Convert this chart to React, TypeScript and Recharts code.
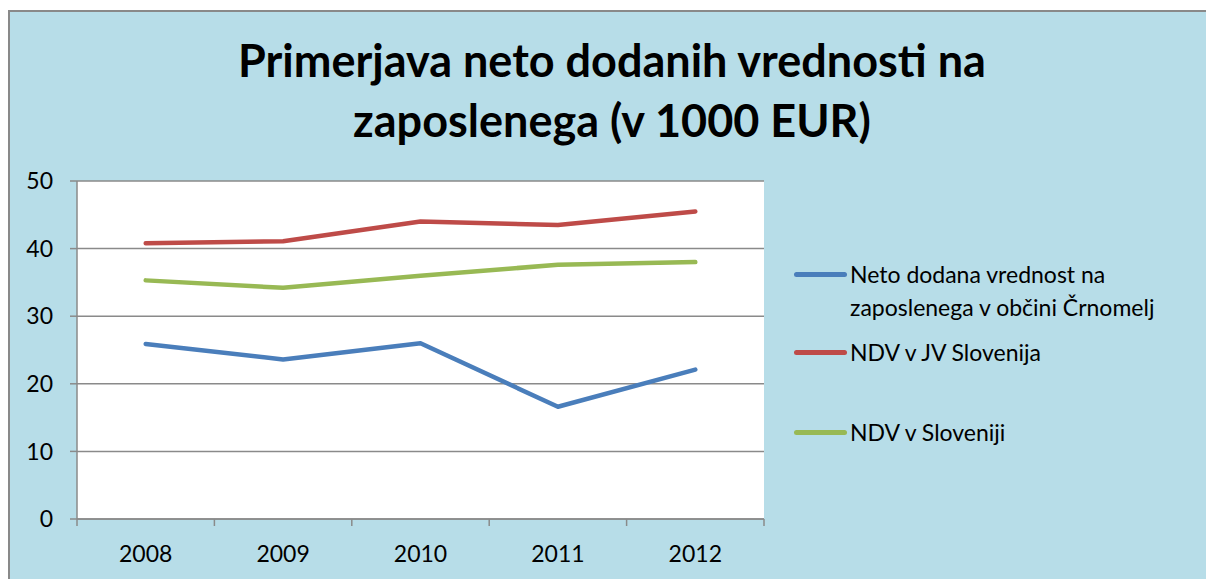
import React from 'react';
import { LineChart, Line, XAxis, YAxis, CartesianGrid, Legend } from 'recharts';

const years = ['2008', '2009', '2010', '2011', '2012'];
const crnomelj = [25.9, 23.6, 26.0, 16.6, 22.1];
const jvSlovenija = [40.8, 41.1, 44.0, 43.5, 45.5];
const slovenija = [35.3, 34.2, 36.0, 37.6, 38.0];
const yTicks = [0, 10, 20, 30, 40, 50];

const seriesNames = [
  'Neto dodana vrednost na zaposlenega v občini Črnomelj',
  'NDV v JV Slovenija',
  'NDV v Sloveniji',
];
const colors = ['#4A7EBB', '#BE4B48', '#98B954'];

const data = years.map((y, i) => ({
  x: i + 0.5,
  year: y,
  a: crnomelj[i],
  b: jvSlovenija[i],
  c: slovenija[i],
}));

const xTicks: number[] = [];
for (let i = 0; i <= years.length * 2; i++) xTicks.push(i / 2);

const FONT = 'Lato, "Noto Sans", sans-serif';
const AXIS = '#8a8a8a';

const XTick = (props: any) => {
  const { x, y, payload } = props;
  const v = payload.value;
  if (Number.isInteger(v)) {
    return <line x1={x} x2={x} y1={y} y2={y + 7} stroke={AXIS} strokeWidth={1.5} />;
  }
  return (
    <text x={x} y={y + 43} textAnchor="middle" fontSize={23} fontFamily={FONT} fill="#000">
      {years[Math.round(v - 0.5)]}
    </text>
  );
};

const LegendContent = () => {
  const items = [
    { name: seriesNames[0], color: colors[0], top: 0, lines: ['Neto dodana vrednost na', 'zaposlenega v občini Črnomelj'] },
    { name: seriesNames[1], color: colors[1], top: 78, lines: ['NDV v JV Slovenija'] },
    { name: seriesNames[2], color: colors[2], top: 158, lines: ['NDV v Sloveniji'] },
  ];
  return (
    <div style={{ position: 'relative', width: 400, height: 220, fontFamily: FONT, fontSize: 23, color: '#000' }}>
      {items.map((it) => (
        <div key={it.name} style={{ position: 'absolute', left: 0, top: it.top, display: 'flex' }}>
          <div style={{ width: 53, height: 5, borderRadius: 3, background: it.color, marginTop: 14, marginRight: 3 }} />
          <div style={{ lineHeight: '33px' }}>
            {it.lines.map((l) => (
              <div key={l} style={{ whiteSpace: 'nowrap' }}>{l}</div>
            ))}
          </div>
        </div>
      ))}
    </div>
  );
};

export default function App() {
  return (
    <div
      style={{
        position: 'fixed',
        left: 8,
        top: 10,
        width: 1198,
        height: 569,
        boxSizing: 'border-box',
        borderTop: '2px solid #898989',
        borderLeft: '2px solid #898989',
        background: '#B7DDE8',
        overflow: 'hidden',
      }}
    >
      <div
        style={{
          position: 'absolute',
          left: 0,
          top: 18,
          width: 1204,
          textAlign: 'center',
          fontFamily: FONT,
          fontWeight: 700,
          fontSize: 45,
          lineHeight: '60px',
          color: '#000',
        }}
      >
        <div>Primerjava neto dodanih vrednosti na</div>
        <div>zaposlenega (v 1000 EUR)</div>
      </div>
      <LineChart
        width={1196}
        height={567}
        data={data}
        margin={{ top: 169, right: 42, bottom: 0, left: 0 }}
      >
        <CartesianGrid vertical={false} horizontal stroke={AXIS} strokeWidth={1.5} fill="#ffffff" />
        <XAxis
          type="number"
          dataKey="x"
          domain={[0, 5]}
          ticks={xTicks}
          interval={0}
          height={60}
          tickSize={0}
          tickMargin={0}
          tickLine={false}
          tick={<XTick />}
          axisLine={{ stroke: AXIS, strokeWidth: 1.5 }}
        />
        <YAxis
          domain={[0, 50]}
          ticks={yTicks}
          interval={0}
          width={67}
          tickSize={7}
          tickMargin={17}
          tickLine={{ stroke: AXIS, strokeWidth: 1.5 }}
          axisLine={{ stroke: AXIS, strokeWidth: 1.5 }}
          tick={{ fontSize: 23, fontFamily: FONT, fill: '#000' }}
        />
        <Legend
          layout="vertical"
          align="right"
          verticalAlign="top"
          wrapperStyle={{ position: 'absolute', left: 784, top: 246, width: 400 }}
          content={<LegendContent />}
        />
        <Line dataKey="a" name={seriesNames[0]} stroke={colors[0]} strokeWidth={4.5} dot={false} isAnimationActive={false} strokeLinecap="round" strokeLinejoin="round" />
        <Line dataKey="b" name={seriesNames[1]} stroke={colors[1]} strokeWidth={4.5} dot={false} isAnimationActive={false} strokeLinecap="round" strokeLinejoin="round" />
        <Line dataKey="c" name={seriesNames[2]} stroke={colors[2]} strokeWidth={4.5} dot={false} isAnimationActive={false} strokeLinecap="round" strokeLinejoin="round" />
      </LineChart>
    </div>
  );
}
